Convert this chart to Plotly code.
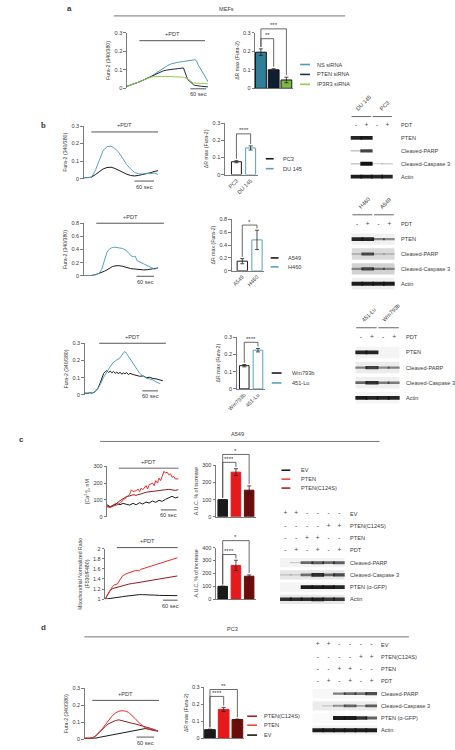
import plotly.graph_objects as go

W, H = 455, 750
FONT = "Liberation Sans, Arial, Helvetica, sans-serif"
TXT = "#3a3a3a"
AXC = "#5a5a5a"
FS_TICK = 5.5
FS_TITLE = 5.2
FS_LAB = 5.6

# ---------------- data ----------------
# panel a (MEFs)
a_t = [0, 16, 31, 47, 62, 78, 94, 109, 125, 140, 156, 172, 187, 203, 218, 234, 250, 256, 262, 268, 275, 281, 287, 293, 300, 306, 312]
a_ns = [0.010, 0.017, 0.025, 0.034, 0.043, 0.053, 0.064, 0.078, 0.093, 0.108, 0.122, 0.133, 0.139, 0.142, 0.145, 0.147, 0.150, 0.153, 0.155, 0.148, 0.125, 0.112, 0.098, 0.085, 0.068, 0.052, 0.035]
a_pten = [0.010, 0.017, 0.025, 0.034, 0.043, 0.053, 0.063, 0.074, 0.085, 0.094, 0.099, 0.102, 0.104, 0.107, 0.110, 0.048, 0.025, 0.020, 0.016, 0.014, 0.012, 0.012, 0.011, 0.010, 0.010, 0.010, 0.008]
a_ip3r3 = [0.010, 0.017, 0.025, 0.034, 0.043, 0.053, 0.061, 0.064, 0.065, 0.064, 0.063, 0.064, 0.062, 0.063, 0.060, 0.052, 0.034, 0.028, 0.030, 0.026, 0.028, 0.025, 0.027, 0.025, 0.026, 0.025, 0.024]
a_labels = ["NS siRNA", "PTEN siRNA", "IP3R3 siRNA"]
a_bar = [0.195, 0.100, 0.045]
a_err = [0.018, 0.006, 0.015]

# panel b, row 1 (PC3 / DU 145)
b1_t = [0, 12, 24, 36, 48, 60, 72, 84, 96, 108, 120, 132, 144, 156, 168, 180, 192, 204, 216, 228]
b1_du145 = [0.004, 0.003, 0.006, 0.045, 0.105, 0.160, 0.182, 0.185, 0.172, 0.150, 0.115, 0.080, 0.055, 0.035, 0.028, 0.026, 0.030, 0.028, 0.032, 0.025]
b1_pc3 = [0.003, 0.004, 0.008, 0.022, 0.040, 0.055, 0.063, 0.065, 0.058, 0.047, 0.035, 0.025, 0.018, 0.015, 0.018, 0.022, 0.028, 0.033, 0.040, 0.045]
b1_cats = ["PC3", "DU 145"]
b1_bar = [0.075, 0.155]
b1_err = [0.006, 0.012]

# panel b, row 2 (A549 / H460)
b2_t = [0, 12, 24, 36, 48, 56, 64, 72, 80, 88, 96, 108, 120, 132, 144, 152, 158, 164, 172, 184, 196, 208, 218, 228]
b2_h460 = [0.0, 0.0, 0.005, 0.015, 0.04, 0.10, 0.22, 0.36, 0.41, 0.43, 0.435, 0.43, 0.415, 0.38, 0.31, 0.29, 0.30, 0.23, 0.21, 0.18, 0.155, 0.12, 0.10, 0.12]
b2_a549 = [0.0, 0.0, 0.005, 0.015, 0.035, 0.05, 0.07, 0.09, 0.115, 0.14, 0.15, 0.155, 0.145, 0.125, 0.11, 0.105, 0.10, 0.095, 0.092, 0.09, 0.093, 0.10, 0.105, 0.12]
b2_cats = ["A549", "H460"]
b2_bar = [0.15, 0.48]
b2_err = [0.04, 0.15]

# panel b, row 3 (Wm793b / 451-Lu)
b3_t_lu = [0, 12, 24, 36, 48, 60, 72, 85, 98, 110, 123, 135, 148, 154, 160, 173, 185, 198, 210, 223, 235, 248, 260, 272, 288]
b3_lu = [0.010, 0.010, 0.012, 0.013, 0.030, 0.060, 0.100, 0.135, 0.165, 0.190, 0.205, 0.215, 0.245, 0.252, 0.240, 0.210, 0.180, 0.150, 0.125, 0.110, 0.097, 0.092, 0.087, 0.075, 0.065]
b3_t_wm = [0, 10, 20, 30, 40, 50, 60, 67, 73, 79, 85, 92, 98, 104, 110, 117, 123, 129, 135, 142, 148, 154, 160, 167, 173, 185, 198, 210, 223, 235, 248, 260, 272, 285, 298]
b3_wm = [0.010, 0.008, 0.012, 0.010, 0.018, 0.035, 0.070, 0.100, 0.125, 0.135, 0.140, 0.130, 0.138, 0.128, 0.136, 0.125, 0.133, 0.122, 0.132, 0.120, 0.128, 0.122, 0.130, 0.118, 0.125, 0.118, 0.115, 0.108, 0.110, 0.100, 0.102, 0.095, 0.093, 0.088, 0.082]
b3_cats = ["Wm793b", "451-Lu"]
b3_bar = [0.135, 0.225]
b3_err = [0.007, 0.010]

# panel c (A549)
c1_t_pten = [0, 12, 25, 37, 50, 62, 75, 87, 94, 100, 112, 119, 125, 131, 137, 150, 156, 162, 175, 181, 187, 194, 200, 206, 212, 219, 225, 231, 237, 244, 250, 256, 262, 275]
c1_pten = [60, 55, 65, 70, 80, 100, 115, 135, 160, 150, 155, 165, 150, 170, 160, 185, 165, 190, 200, 185, 215, 200, 230, 215, 240, 270, 260, 265, 250, 255, 235, 240, 225, 225]
c1_t = [0, 12, 25, 37, 50, 62, 75, 87, 100, 112, 125, 137, 150, 162, 175, 187, 200, 212, 225, 237, 250, 262, 275]
c1_c124s = [65, 58, 72, 80, 96, 108, 121, 124, 131, 128, 136, 139, 146, 149, 152, 154, 159, 158, 161, 163, 159, 157, 161]
c1_ev = [72, 60, 66, 78, 72, 80, 74, 70, 80, 72, 84, 76, 88, 82, 94, 86, 98, 92, 104, 112, 122, 112, 118]
c_cats = ["EV", "PTEN", "PTEN(C124S)"]
c1_bar = [100, 260, 155]
c1_err = [0, 20, 25]

c2_t_pten = [0, 9, 18, 28, 34, 46, 53, 59, 65, 78, 90, 103, 115, 128, 134, 146, 165, 184, 203, 221, 240, 259, 271]
c2_pten = [1.0, 1.08, 1.18, 1.25, 1.28, 1.30, 1.36, 1.42, 1.46, 1.50, 1.52, 1.55, 1.57, 1.56, 1.59, 1.61, 1.64, 1.67, 1.70, 1.73, 1.76, 1.80, 1.82]
c2_t = [0, 9, 18, 28, 40, 53, 65, 78, 90, 103, 115, 128, 140, 153, 165, 184, 203, 221, 240, 259, 271]
c2_c124s = [1.0, 1.1, 1.17, 1.21, 1.23, 1.25, 1.27, 1.29, 1.30, 1.31, 1.32, 1.33, 1.345, 1.355, 1.365, 1.38, 1.40, 1.42, 1.43, 1.45, 1.46]
c2_ev = [1.0, 1.005, 1.01, 1.02, 1.03, 1.04, 1.05, 1.06, 1.07, 1.075, 1.08, 1.09, 1.09, 1.09, 1.085, 1.08, 1.075, 1.07, 1.07, 1.065, 1.07]
c2_bar = [100, 262, 178]
c2_err = [0, 40, 10]

# panel d (PC3)
d_t = [0, 15, 25, 35, 45, 55, 65, 75, 85, 95, 105, 115, 125, 135, 145, 155, 165, 175, 185, 195, 205, 215, 225]
d_pten = [0.005, 0.003, 0.006, 0.02, 0.04, 0.062, 0.088, 0.113, 0.138, 0.155, 0.165, 0.168, 0.166, 0.158, 0.142, 0.122, 0.100, 0.082, 0.068, 0.058, 0.052, 0.050, 0.048]
d_c124s = [0.005, 0.004, 0.008, 0.02, 0.038, 0.06, 0.078, 0.092, 0.102, 0.110, 0.114, 0.108, 0.104, 0.098, 0.094, 0.090, 0.085, 0.080, 0.075, 0.068, 0.062, 0.055, 0.048]
d_ev = [0.004, 0.003, 0.004, 0.006, 0.010, 0.014, 0.018, 0.022, 0.026, 0.030, 0.034, 0.038, 0.042, 0.046, 0.050, 0.054, 0.057, 0.060, 0.062, 0.060, 0.057, 0.052, 0.047]
d_bar = [0.05, 0.17, 0.11]
d_err = [0.003, 0.012, 0.003]

# western blots (band intensity 0..1 per lane)
b1_groups = [("DU 145", 0, 1), ("PC3", 2, 3)]
b2_groups = [("H460", 0, 1), ("A549", 2, 3)]
b3_groups = [("451-Lu", 0, 1), ("Wm793b", 2, 3)]
b_pdt = [["-", "+", "-", "+"]]
b_rows = ["PTEN", "Cleaved-PARP", "Cleaved-Caspase 3", "Actin"]
b1_bands = [[0.9, 0.95, 0, 0], [0.12, 0.75, 0, 0], [0.1, 1.0, 0.03, 0.05], [0.95, 0.95, 0.9, 0.9]]
b2_bands = [[0.9, 0.9, 0.4, 0.35], [0.12, 0.7, 0.08, 0.08], [0.3, 0.7, 0.4, 0.3], [0.95, 0.95, 0.95, 0.95]]
b3_bands = [[0.9, 0.9, 0, 0], [0.4, 0.75, 0.35, 0.4], [0.55, 0.85, 0.45, 0.45], [0.95, 0.9, 0.9, 0.9]]

cd_sign_rows = ["EV", "PTEN(C124S)", "PTEN", "PDT"]
cd_signs = [["+", "+", "-", "-", "-", "-"],
            ["-", "-", "-", "-", "+", "+"],
            ["-", "-", "+", "+", "-", "-"],
            ["-", "+", "-", "+", "-", "+"]]
cd_rows = ["Cleaved-PARP", "Cleaved-Caspase 3", "PTEN (\u03b1-GFP)", "Actin"]
c_bands = [[0, 0.03, 0.55, 0.6, 0.55, 0.6], [0.05, 0.05, 0.5, 0.85, 0.55, 0.7], [0, 0, 0.95, 0.95, 0.95, 0.9], [0.85, 0.85, 0.85, 0.9, 0.8, 0.8]]
d_bands = [[0, 0, 0.45, 0.55, 0.5, 0.7], [0, 0.03, 0.3, 0.55, 0.2, 0.6], [0, 0, 0.95, 0.95, 0.85, 0.6], [0.95, 0.95, 0.95, 0.95, 0.95, 0.95]]

# ---------------- colours ----------------
C_NS, C_NSB = "#4a9cbc", "#2f7f99"
C_PS, C_PSB = "#1f2d45", "#0f1e33"
C_IP, C_IPB = "#93cc4a", "#7cb843"
C_TEAL = "#55a3bf"
C_BLK = "#1a1a1a"
C_RED, C_REDB = "#ea2a2a", "#e41a1c"
C_DRED, C_DREDB = "#8e1b22", "#6b0c0c"

# ---------------- helpers ----------------
fig = go.Figure()
shapes, annots = [], []
AX = [0]


def px_x(p):
    return p / W


def px_y(p):
    return 1 - p / H


def d2p(ax, v):
    d0, d1 = ax["domain"]
    r0, r1 = ax["range"]
    return d0 + (v - r0) / (r1 - r0) * (d1 - d0)


def new_axes(xpx, ypx, xr, yr, xkw=None, ykw=None):
    AX[0] += 1
    s = "" if AX[0] == 1 else str(AX[0])
    xa = dict(domain=[xpx[0] / W, xpx[1] / W], range=xr, anchor="y" + s,
              showgrid=False, zeroline=False, fixedrange=True)
    ya = dict(domain=[1 - ypx[1] / H, 1 - ypx[0] / H], range=yr, anchor="x" + s,
              showgrid=False, zeroline=False, fixedrange=True)
    if xkw:
        xa.update(xkw)
    if ykw:
        ya.update(ykw)
    fig.update_layout({"xaxis" + s: xa, "yaxis" + s: ya})
    return "x" + s, "y" + s, xa, ya


YSTYLE = dict(showline=True, linecolor=AXC, linewidth=0.8, ticks="outside", ticklen=2.5,
              tickwidth=0.8, tickcolor=AXC, tickfont=dict(size=FS_TICK, color=TXT, family=FONT))


def text(x, y, s, size=FS_LAB, xanchor="center", yanchor="middle", color=TXT, angle=0, family=FONT, bold=False):
    if bold:
        s = "<b>" + s + "</b>"
    annots.append(dict(text=s, x=x, y=y, xref="paper", yref="paper", showarrow=False,
                       xanchor=xanchor, yanchor=yanchor, textangle=angle,
                       font=dict(size=size, color=color, family=family)))


def hline(x0, x1, y, color="#555", width=1.0):
    shapes.append(dict(type="line", xref="paper", yref="paper", x0=px_x(x0), x1=px_x(x1),
                       y0=px_y(y), y1=px_y(y), line=dict(color=color, width=width)))


def line_chart(xpx, ypx, xr, yr, ytick, series, ytitle, pdt, sbar, pdt_color="#555", pdt_w=1.0):
    xn, yn, xa, ya = new_axes(xpx, ypx, xr, yr, dict(visible=False),
                              dict(YSTYLE, tickvals=ytick,
                                   title=dict(text=ytitle, standoff=3,
                                              font=dict(size=FS_TITLE, color=TXT, family=FONT))))
    for t, v, c in series:
        fig.add_trace(go.Scatter(x=t, y=v, mode="lines", line=dict(color=c, width=1),
                                 xaxis=xn, yaxis=yn, showlegend=False, hoverinfo="skip"))
    hline(pdt[0], pdt[1], pdt[2], pdt_color, pdt_w)
    text(px_x((pdt[0] + pdt[1]) / 2), px_y(pdt[2] - 1.5), "+PDT", yanchor="bottom")
    hline(sbar[0], sbar[1], sbar[2], "#444", 0.9)
    text(px_x((sbar[0] + sbar[1]) / 2), px_y(sbar[2] + 0.5), "60 sec", yanchor="top")


def bar_chart(axis_px, c0_px, sp_px, ypx, yr, ytick, cats, vals, errs, fills, outlines, width,
              ytitle, brackets, xlabels=False):
    n = len(cats)
    xr = [-(c0_px - axis_px) / sp_px, n - 0.5]
    xpx = (axis_px, c0_px + (n - 0.5) * sp_px)
    xkw = dict(type="linear", showline=True, linecolor=AXC, linewidth=0.8, ticks="",
               tickvals=list(range(n)), ticktext=cats, showticklabels=xlabels, tickangle=-45,
               tickfont=dict(size=FS_TICK, color=TXT, family=FONT))
    xn, yn, xa, ya = new_axes(xpx, ypx, xr, yr, xkw,
                              dict(YSTYLE, tickvals=ytick,
                                   title=dict(text=ytitle, standoff=3,
                                              font=dict(size=FS_TITLE, color=TXT, family=FONT))))
    fig.add_trace(go.Bar(x=list(range(n)), y=vals, width=width,
                         marker=dict(color=fills, line=dict(color=outlines, width=1)),
                         error_y=dict(type="data", array=errs, color="#222", thickness=0.8, width=2),
                         xaxis=xn, yaxis=yn, showlegend=False, hoverinfo="skip"))
    pad = 0.035 * (yr[1] - yr[0])
    for i, j, lev, lab in brackets:
        xi, xj = d2p(xa, i), d2p(xa, j)
        yl = d2p(ya, lev)
        ybi = d2p(ya, vals[i] + errs[i] + pad)
        ybj = d2p(ya, vals[j] + errs[j] + pad)
        shapes.append(dict(type="path", xref="paper", yref="paper",
                           path=f"M {xi},{ybi} L {xi},{yl} L {xj},{yl} L {xj},{ybj}",
                           line=dict(color="#444", width=0.8)))
        text((xi + xj) / 2, yl - 0.002, lab, size=6, yanchor="bottom")


def legend(x0, x1, xt, ys, labels, colors):
    for y, lab, c in zip(ys, labels, colors):
        hline(x0, x1, y, c, 1.6)
        text(px_x(xt), px_y(y), lab, xanchor="left")


def blot(lane0, lane_sp, row0, row_sp, sign_rows, signs, band_rows, bands, bg, label_px,
         groups=None, band_len=0.82):
    n = len(signs[0])
    rows = sign_rows + band_rows
    nr = len(rows)
    xpx = (lane0 - lane_sp / 2, lane0 + (n - 0.5) * lane_sp)
    ypx = (row0 - row_sp / 2, row0 + (nr - 0.5) * row_sp)
    xn, yn, xa, ya = new_axes(xpx, ypx, [-0.5, n - 0.5], [nr - 0.5, -0.5], dict(visible=False),
                              dict(visible=False))
    for r, lab in enumerate(rows):
        text(px_x(label_px), d2p(ya, r), lab, xanchor="left")
    ns = len(sign_rows)
    for k, shade in enumerate(bg):
        if shade:
            shapes.append(dict(type="rect", xref=xn, yref=yn, x0=-0.5, x1=n - 0.5,
                               y0=ns + k - 0.38, y1=ns + k + 0.38, fillcolor=shade,
                               line=dict(width=0), layer="below"))
    sx, sy, st = [], [], []
    for r, row in enumerate(signs):
        for i, s in enumerate(row):
            sx.append(i); sy.append(r); st.append(s)
    fig.add_trace(go.Scatter(x=sx, y=sy, text=st, mode="text",
                             textfont=dict(size=6.5, color="#444", family=FONT),
                             xaxis=xn, yaxis=yn, showlegend=False, hoverinfo="skip"))
    bx, by, bw, bc = [], [], [], []
    for r, row in enumerate(bands):
        for i, v in enumerate(row):
            if v > 0:
                bx.append(i); by.append(ns + r)
                bw.append(1.2 + 2.8 * v)
                bc.append(f"rgba(20,20,20,{0.15 + 0.85 * v:.2f})")
    fig.add_trace(go.Scatter(x=bx, y=by, mode="markers",
                             marker=dict(symbol="line-ew", size=lane_sp * band_len,
                                         line=dict(width=bw, color=bc)),
                             xaxis=xn, yaxis=yn, showlegend=False, hoverinfo="skip"))
    if groups:
        ytop = d2p(ya, -0.5)
        for lab, g0, g1 in groups:
            x0, x1 = d2p(xa, g0 - 0.42), d2p(xa, g1 + 0.42)
            yl = ytop + 2.0 / H
            shapes.append(dict(type="line", xref="paper", yref="paper", x0=x0, x1=x1,
                               y0=yl, y1=yl, line=dict(color="#555", width=0.9)))
            text((x0 + x1) / 2 + 2 / W, yl + 2 / H, lab, yanchor="bottom", angle=-45)


# ---------------- panel a ----------------
text(px_x(62), px_y(6), "a", size=8, bold=True)
text(px_x(222), px_y(6), "MEFs")
hline(107, 343, 13, "#666", 0.9)
line_chart((120, 203), (30, 86), [0, 312], [0, 0.3], [0, 0.1, 0.2, 0.3],
           [(a_t, a_ns, C_NS), (a_t, a_pten, C_PS), (a_t, a_ip3r3, C_IP)],
           "Fura-2 (340/380)", (133, 200, 38), (185, 201, 86.5))
bar_chart(251, 257, 13, (30, 86), [0, 0.3], [0, 0.1, 0.2, 0.3], a_labels, a_bar, a_err,
          [C_NSB, C_PSB, C_IPB], "#111", 0.85, "\u0394R max (Fura-2)",
          [(0, 1, 0.268, "**"), (0, 2, 0.321, "***")])
legend(297, 307, 312, [62, 72, 82], a_labels, [C_NS, C_PS, C_IP])

# ---------------- panel b ----------------
text(px_x(35), px_y(123), "b", size=8.5, bold=True, family="Liberation Serif, Times New Roman, serif")
# row 1
line_chart((76, 152), (124, 177), [0, 228], [0, 0.3], [0, 0.1, 0.2, 0.3],
           [(b1_t, b1_pc3, C_BLK), (b1_t, b1_du145, C_TEAL)],
           "Fura-2 (340/380)", (84, 152, 130), (128, 148, 179.5))
bar_chart(220, 232, 14.5, (121, 173), [0, 0.3], [0, 0.1, 0.2, 0.3], b1_cats, b1_bar, b1_err,
          ["white", "white"], [C_BLK, C_TEAL], 0.7, "\u0394R max (Fura-2)",
          [(0, 1, 0.237, "****")], xlabels=True)
legend(262, 270, 277, [157, 167], b1_cats, [C_BLK, C_TEAL])
blot(354, 10.7, 123, 13, ["PDT"], b_pdt, b_rows, b1_bands, [None, None, None, None], 398, b1_groups)
# row 2
line_chart((76, 152), (222, 275), [0, 228], [0, 0.8], [0, 0.2, 0.4, 0.6, 0.8],
           [(b2_t, b2_a549, C_BLK), (b2_t, b2_h460, C_TEAL)],
           "Fura-2 (340/380)", (89, 158, 222), (130, 148, 275.5))
bar_chart(227, 238, 15, (218, 270), [0, 0.8], [0, 0.2, 0.4, 0.6, 0.8], b2_cats, b2_bar, b2_err,
          ["white", "white"], [C_BLK, C_TEAL], 0.7, "\u0394R max (Fura-2)",
          [(0, 1, 0.71, "*")], xlabels=True)
legend(267, 275, 283, [257, 266], b2_cats, [C_BLK, C_TEAL])
blot(355, 11, 223, 15, ["PDT"], b_pdt, b_rows, b2_bands, ["#f1f1f1", "#dadada", "#d2d2d2", "#efefef"], 398, b2_groups)
# row 3
line_chart((77, 157), (343, 395), [0, 298], [0, 0.3], [0, 0.1, 0.2, 0.3],
           [(b3_t_wm, b3_wm, C_BLK), (b3_t_lu, b3_lu, C_TEAL)],
           "Fura-2 (340/380)", (92, 160, 343), (136, 152, 391))
bar_chart(232, 240, 14, (337, 389), [0, 0.3], [0, 0.1, 0.2, 0.3], b3_cats, b3_bar, b3_err,
          ["white", "white"], [C_BLK, C_TEAL], 0.7, "\u0394R max (Fura-2)",
          [(0, 1, 0.271, "****")], xlabels=True)
legend(268, 278, 287, [373, 383], b3_cats, [C_BLK, C_TEAL])
blot(359, 11.3, 337, 15.25, ["PDT"], b_pdt, b_rows, b3_bands, ["#f4f4f4", "#ececec", "#efefef", "#f6f6f6"], 403, b3_groups)

# ---------------- panel c ----------------
text(px_x(13), px_y(440), "c", size=8, bold=True)
text(px_x(233), px_y(434), "A549")
hline(93, 378, 442, "#666", 0.9)
line_chart((100, 173), (467, 518), [0, 275], [0, 300], [0, 100, 200, 300],
           [(c1_t, c1_ev, C_BLK), (c1_t, c1_c124s, C_DRED), (c1_t_pten, c1_pten, C_RED)],
           "[Ca<sup>2+</sup>]<sub>i</sub>, nM", (112, 173, 469), (155, 171, 511), "#9a9a9a", 1.6)
bar_chart(211, 218, 13.5, (466, 518), [0, 300], [0, 100, 200, 300], c_cats, c1_bar, c1_err,
          [C_BLK, C_REDB, C_DREDB], [C_BLK, C_REDB, C_DREDB], 0.72, "A.U.C. % of increase",
          [(0, 1, 317, "****"), (0, 2, 363, "*")])
legend(278, 287, 296, [471, 480, 489], c_cats, [C_BLK, "#f2453d", "#a3222a"])
line_chart((98, 172), (550, 601), [0, 271], [1, 2], [1, 1.2, 1.4, 1.6, 1.8, 2],
           [(c2_t, c2_ev, C_BLK), (c2_t, c2_c124s, C_DRED), (c2_t_pten, c2_pten, C_RED)],
           "Mitochondrial Normalized Ratio<br>(F530/F480)", (110, 172, 549), (157, 172, 602))
bar_chart(211, 218, 13.5, (549, 601), [0, 400], [0, 100, 200, 300, 400], c_cats, c2_bar, c2_err,
          [C_BLK, C_REDB, C_DREDB], [C_BLK, C_REDB, C_DREDB], 0.72, "A.U.C. % of increase",
          [(0, 1, 346, "****"), (0, 2, 454, "*")])
blot(282, 11, 515, 12.3, cd_sign_rows, cd_signs, cd_rows, c_bands,
     ["#f3f3f3", "#e6e6e6", "#f5f5f5", "#e8e8e8"], 346)

# ---------------- panel d ----------------
text(px_x(35), px_y(630), "d", size=8, bold=True)
text(px_x(228), px_y(631), "PC3")
hline(77, 408, 639, "#666", 0.9)
line_chart((77, 152), (691, 742), [0, 225], [0, 0.3], [0, 0.1, 0.2, 0.3],
           [(d_t, d_ev, C_BLK), (d_t, d_c124s, C_DRED), (d_t, d_pten, C_RED)],
           "Fura-2 (340/380)", (85, 153, 703), (130, 148, 740))
bar_chart(199, 205, 14, (690, 741), [0, 0.3], [0, 0.1, 0.2, 0.3], c_cats, d_bar, d_err,
          [C_BLK, C_REDB, C_DREDB], [C_BLK, C_REDB, C_DREDB], 0.78, "\u0394R max (Fura-2)",
          [(0, 1, 0.247, "****"), (0, 2, 0.288, "**")])
legend(243, 253, 258, [719, 728, 738], ["PTEN(C124S)", "PTEN", "EV"], ["#a3222a", "#f2453d", C_BLK])
blot(315, 11, 647, 12.3, cd_sign_rows, cd_signs, cd_rows, d_bands,
     ["#f7f7f7", "#ececec", "#fafafa", "#f2f2f2"], 377)

fig.update_layout(width=W, height=H, margin=dict(l=0, r=0, t=0, b=0),
                  paper_bgcolor="white", plot_bgcolor="white", showlegend=False,
                  font=dict(family=FONT, size=FS_LAB, color=TXT),
                  shapes=shapes, annotations=annots, bargap=0)
fig.write_html("out.html", config={"displayModeBar": False, "staticPlot": True},
               post_script="document.body.style.margin='0';document.body.style.overflow='hidden';")
